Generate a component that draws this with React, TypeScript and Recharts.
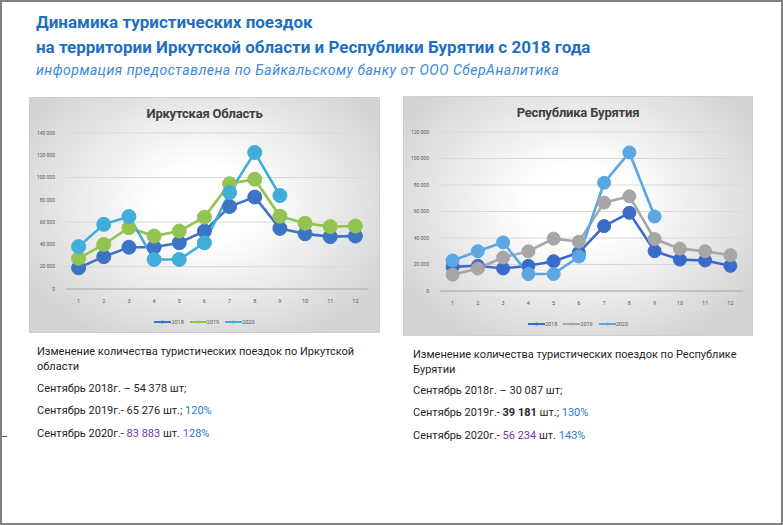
import React from "react";
import { CartesianGrid, Legend, Line, LineChart, XAxis, YAxis } from "recharts";

// месяцы
const months = ["1", "2", "3", "4", "5", "6", "7", "8", "9", "10", "11", "12"];

// Иркутская область, кол-во поездок по месяцам
const irk2018 = [19000, 29000, 37500, 37500, 41500, 52000, 74000, 82500, 54378, 49500, 47000, 47500];
const irk2019 = [27500, 40000, 55000, 47500, 52000, 64500, 94500, 98500, 65276, 59000, 56000, 56500];
const irk2020 = [38000, 58000, 65000, 26500, 26500, 41500, 86500, 122500, 83883, null, null, null];
const irkTicks = [0, 20000, 40000, 60000, 80000, 100000, 120000, 140000];

// Республика Бурятия
const bur2018 = [18200, 19000, 17000, 19000, 22500, 29000, 49000, 59000, 30087, 23700, 23000, 19000];
const bur2019 = [12300, 17000, 25300, 30000, 39500, 37200, 66700, 71500, 39181, 32000, 30000, 27000];
const bur2020 = [23000, 30000, 36700, 12800, 12800, 26000, 81700, 104600, 56234, null, null, null];
const burTicks = [0, 20000, 40000, 60000, 80000, 100000, 120000];

const years = ["2018", "2019", "2020"];

const irkData = months.map((m, i) => ({ m, y2018: irk2018[i], y2019: irk2019[i], y2020: irk2020[i] }));
const burData = months.map((m, i) => ({ m, y2018: bur2018[i], y2019: bur2019[i], y2020: bur2020[i] }));

// неразрывный пробел, иначе recharts переносит подпись
const fmt = (v: number) => String(v).replace(/\B(?=(\d{3})+(?!\d))/g, "\u00a0");

const FONT = "Roboto, 'Noto Sans', sans-serif";

function MiniLegend({ colors }: { colors: string[] }) {
  return (
    <div style={{ display: "flex", justifyContent: "center", gap: 6, fontSize: 5.5, color: "#595959", fontFamily: FONT }}>
      {years.map((y, i) => (
        <span key={y} style={{ display: "flex", alignItems: "center" }}>
          <svg width={17} height={6}>
            <line x1={0} y1={3} x2={17} y2={3} stroke={colors[i]} strokeWidth={2} />
            <circle cx={8.5} cy={3} r={1.6} fill={colors[i]} />
          </svg>
          <span>{y}</span>
        </span>
      ))}
    </div>
  );
}

interface ChartProps {
  title: string;
  data: any[];
  ticks: number[];
  colors: string[];
  left: number;
  top: number;
  width: number;
  height: number;
  margin: { top: number; right: number; left: number; bottom: number };
  yWidth: number;
  dotR: number;
  legendTop: number;
}

function TripChart(p: ChartProps) {
  const keys = ["y2018", "y2019", "y2020"];
  return (
    <div
      style={{
        position: "absolute",
        left: p.left,
        top: p.top,
        width: p.width,
        height: p.height,
        background: "radial-gradient(ellipse 60% 65% at 50% 45%, #ffffff 25%, #d3d3d3 100%)",
        boxShadow: "inset 0 0 0 1px #cfcfcf",
      }}
    >
      <div
        style={{
          position: "absolute",
          top: 9,
          left: 0,
          width: "100%",
          textAlign: "center",
          fontFamily: FONT,
          fontWeight: 700,
          fontSize: 13,
          color: "#404040",
          letterSpacing: -0.2,
        }}
      >
        {p.title}
      </div>
      <LineChart width={p.width} height={p.height} data={p.data} margin={p.margin}>
        <CartesianGrid vertical={false} stroke="#d9d9d9" strokeWidth={1} />
        <XAxis
          dataKey="m"
          padding={{ left: 12.6, right: 12.6 }}
          tick={{ fontSize: 5.5, fill: "#595959", fontFamily: FONT }}
          tickLine={false}
          axisLine={{ stroke: "#a6a6a6" }}
          interval={0}
          tickMargin={4}
        />
        <YAxis
          domain={[0, p.ticks[p.ticks.length - 1]]}
          ticks={p.ticks}
          width={p.yWidth}
          tick={{ fontSize: 5, fill: "#595959", fontFamily: FONT }}
          tickFormatter={fmt}
          tickLine={false}
          axisLine={false}
          tickMargin={5}
        />
        <Legend
          verticalAlign="middle"
          wrapperStyle={{ top: p.legendTop, left: 0, width: p.width }}
          content={() => <MiniLegend colors={p.colors} />}
        />
        {keys.map((k, i) => (
          <Line
            key={k}
            dataKey={k}
            name={years[i]}
            stroke={p.colors[i]}
            strokeWidth={2.6}
            dot={{ r: p.dotR, fill: p.colors[i], stroke: p.colors[i], strokeWidth: 1 }}
            isAnimationActive={false}
          />
        ))}
      </LineChart>
    </div>
  );
}

const textStyle: React.CSSProperties = {
  position: "absolute",
  fontFamily: FONT,
  fontSize: 11,
  color: "#262626",
  lineHeight: "15px",
  width: 360,
};

const blue = "#2E78D2";
const purple = "#7A35B0";

export default function App() {
  return (
    <div style={{ position: "fixed", left: 0, top: 0, width: 783, height: 525, background: "#fff", overflow: "hidden" }}>
      <div style={{ position: "absolute", left: 0, top: 0, width: 783, height: 525, boxSizing: "border-box", border: "2px solid #7f7f7f" }} />
      <div style={{ position: "absolute", left: 2, top: 436, width: 5, height: 1, background: "#555" }} />

      <div style={{ position: "absolute", left: 36, top: 10, fontFamily: FONT, fontWeight: 700, fontSize: 17, color: "#1F6FC1", lineHeight: "25px" }}>
        <div>Динамика туристических поездок</div>
        <div>на территории Иркутской области и Республики Бурятии с 2018 года</div>
      </div>
      <div style={{ position: "absolute", left: 36, top: 62, fontFamily: FONT, fontStyle: "italic", fontSize: 14, letterSpacing: 0.5, color: "#3A86E0" }}>
        информация предоставлена по Байкальскому банку от ООО СберАналитика
      </div>

      <TripChart
        title="Иркутская Область"
        data={irkData}
        ticks={irkTicks}
        colors={["#3D73C4", "#93C453", "#3FAED8"]}
        left={29}
        top={97}
        width={351}
        height={236}
        margin={{ top: 36, right: 12, left: 7, bottom: 14 }}
        yWidth={30}
        dotR={7}
        legendTop={222}
      />
      <TripChart
        title="Республика Бурятия"
        data={burData}
        ticks={burTicks}
        colors={["#3A6BCB", "#A6A6A6", "#5BA7E3"]}
        left={403}
        top={96}
        width={350}
        height={240}
        margin={{ top: 36, right: 10, left: 7, bottom: 15 }}
        yWidth={30}
        dotR={6.5}
        legendTop={225}
      />

      <div style={{ ...textStyle, left: 37, top: 344 }}>
        <div>Изменение количества туристических поездок по Иркутской</div>
        <div>области</div>
        <div style={{ marginTop: 7 }}>Сентябрь 2018г. – 54 378 шт;</div>
        <div style={{ marginTop: 7 }}>
          Сентябрь 2019г.- 65 276 шт.; <span style={{ color: blue }}>120%</span>
        </div>
        <div style={{ marginTop: 8 }}>
          Сентябрь 2020г.- <span style={{ color: purple }}>83 883</span> шт. <span style={{ color: blue }}>128%</span>
        </div>
      </div>

      <div style={{ ...textStyle, left: 413, top: 347 }}>
        <div>Изменение количества туристических поездок по Республике</div>
        <div>Бурятии</div>
        <div style={{ marginTop: 6 }}>Сентябрь 2018г. – 30 087 шт;</div>
        <div style={{ marginTop: 7 }}>
          Сентябрь 2019г.- <b>39 181</b> шт.; <span style={{ color: blue }}>130%</span>
        </div>
        <div style={{ marginTop: 8 }}>
          Сентябрь 2020г.- <span style={{ color: purple }}>56 234</span> шт. <span style={{ color: blue }}>143%</span>
        </div>
      </div>
    </div>
  );
}
